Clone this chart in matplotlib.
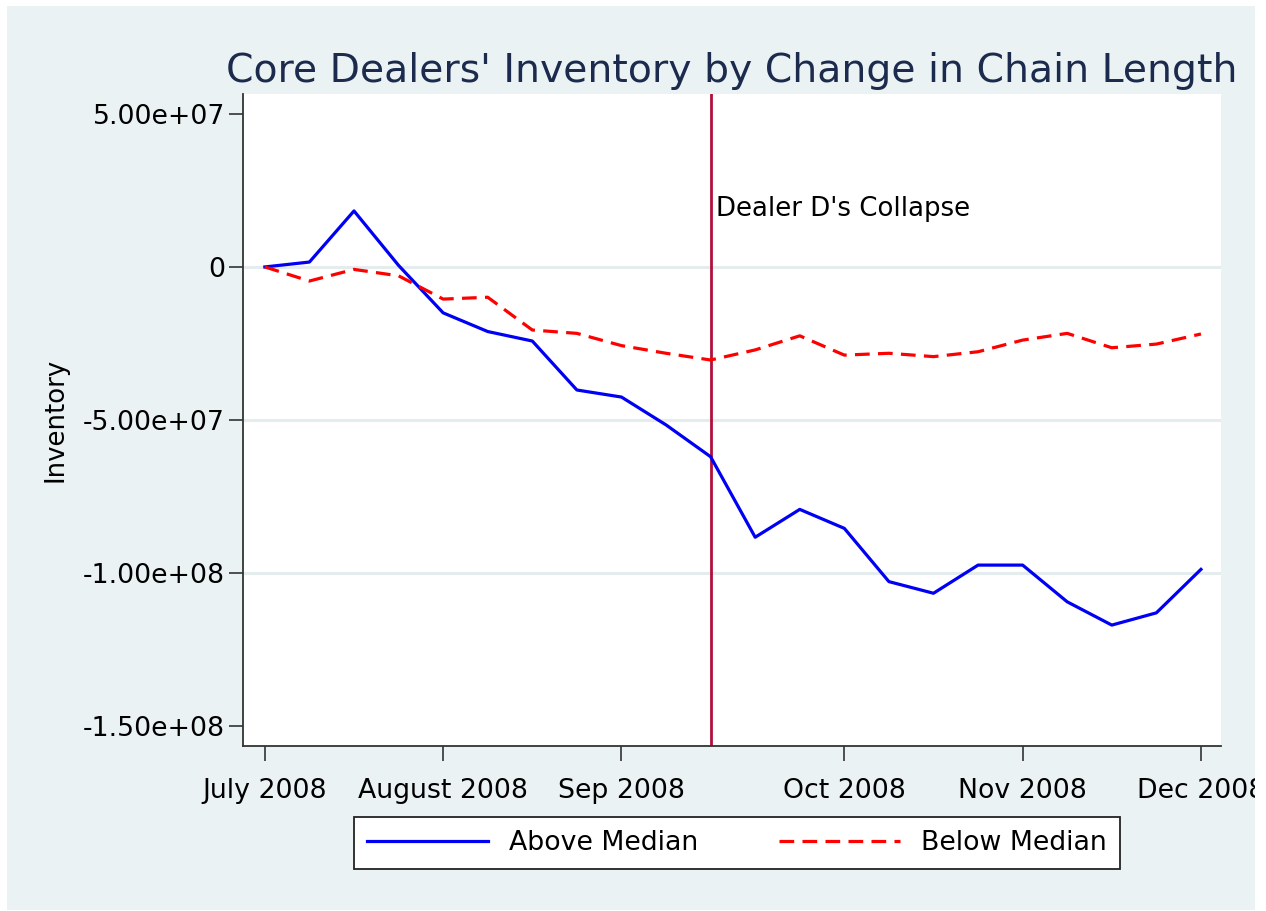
## Core dealers' inventory by change in chain length (Stata-like look)

import matplotlib
matplotlib.use("Agg")
from matplotlib import pyplot as plt
from matplotlib.patches import Rectangle
from matplotlib.transforms import Bbox, TransformedBbox

# week index, July 2008 .. Dec 2008
period = list(range(22))
above_median = [0.0, 1.6, 18.3, 0.5, -15.0, -21.1, -24.2, -40.2, -42.5, -51.6, -62.0,
                -88.3, -79.2, -85.4, -102.8, -106.6, -97.4, -97.4, -109.4, -117.0, -113.0, -98.8]
below_median = [0.0, -4.6, -0.8, -2.9, -10.5, -9.9, -20.6, -21.7, -25.7, -28.2, -30.4,
                -27.1, -22.5, -28.8, -28.2, -29.3, -27.7, -23.9, -21.7, -26.4, -25.2, -21.9]
above_median = [v * 1e6 for v in above_median]
below_median = [v * 1e6 for v in below_median]

tick_pos = [0, 4, 8, 13, 17, 21]
tick_labels = ["July 2008", "August 2008", "Sep 2008", "Oct 2008", "Nov 2008", "Dec 2008"]
y_ticks = [5e7, 0, -5e7, -1e8, -1.5e8]
y_labels = ["5.00e+07", "0", "-5.00e+07", "-1.00e+08", "-1.50e+08"]
collapse_week = 10

#------------------------------------------------------------------------------

plt.rcParams['font.family'] = ['DejaVu Sans']

W, H = 1266, 911
fig = plt.figure(figsize=(W / 100, H / 100), dpi=100, facecolor="white")

# light bluish graph region
fig.patches.append(Rectangle((7 / W, 1 / H), (1255 - 7) / W, (905 - 1) / H,
                             transform=fig.transFigure, facecolor="#EAF2F3",
                             edgecolor="none", zorder=-10))

ax = fig.add_axes([243 / W, (H - 746) / H, (1221 - 243) / W, (746 - 94) / H])
ax.set_facecolor("white")

for g in [0, -5e7, -1e8]:
    ax.axhline(g, color="#E4ECEE", lw=2.2, zorder=1)

ax.plot(period, above_median, color="#0000F5", lw=2.3, label="Above Median", zorder=3)
ax.plot(period, below_median, color="#FF0000", lw=2.3, linestyle=(0, (4.6, 2.6)),
        label="Below Median", zorder=3)

ax.axvline(collapse_week, color="#B0103A", lw=2.0, zorder=2)
ax.text(collapse_week + 0.13, 1.9e7, "Dealer D's Collapse", fontsize=18.7,
        va="center", ha="left", color="black")

ax.set_xlim(-0.49, 21.45)
ax.set_ylim(-1.565e8, 5.65e7)

ax.set_xticks(tick_pos)
ax.set_xticklabels(tick_labels, fontsize=19.3)
ax.set_yticks(y_ticks)
ax.set_yticklabels(y_labels, fontsize=19.3)
ax.tick_params(axis="x", length=11, width=1.2, color="#333333", pad=12)
ax.tick_params(axis="y", length=10, width=1.2, color="#333333", pad=3)

# the graph region clips the last date label
clip = TransformedBbox(Bbox.from_extents(0, 0, 1255 / W, 1), fig.transFigure)
for lbl in ax.get_xticklabels():
    lbl.set_clip_on(True)
    lbl.set_clip_box(clip)

for s in ["top", "right"]:
    ax.spines[s].set_visible(False)
for s in ["left", "bottom"]:
    ax.spines[s].set_color("#333333")
    ax.spines[s].set_linewidth(1.3)

ax.set_ylabel("Inventory", fontsize=18.7, labelpad=10)
ax.set_title("Core Dealers' Inventory by Change in Chain Length", fontsize=28.4,
             color="#1C2B4D", pad=9)

leg = fig.legend(loc="center", bbox_to_anchor=(737 / W, (H - 843) / H), ncol=2,
                 fontsize=19.3, frameon=True, fancybox=False, handlelength=4.5,
                 columnspacing=3.0, handletextpad=0.8, borderpad=0.5, framealpha=1)
leg.get_frame().set_edgecolor("#222222")
leg.get_frame().set_facecolor("white")
leg.get_frame().set_linewidth(1.3)

fig.savefig("out.png", dpi=100, facecolor=fig.get_facecolor())
